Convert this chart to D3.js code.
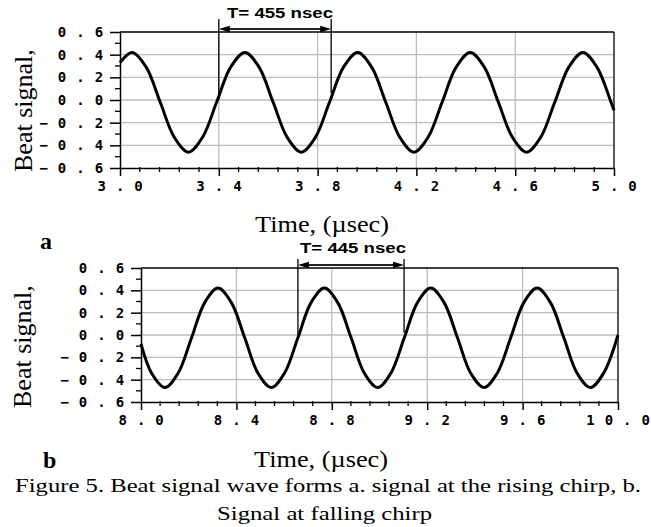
<!DOCTYPE html>
<html>
<head>
<meta charset="utf-8">
<script src="https://cdn.jsdelivr.net/npm/d3@7"></script>
<style>
  html, body { margin: 0; padding: 0; background: #fff; }
  svg { display: block; }
</style>
</head>
<body>
<svg id="chart" width="651" height="527"></svg>
<script>
// ---------- DATA ----------
// Panel a: signal at the rising chirp
const timeA = [3.000, 3.049, 3.106, 3.163, 3.220, 3.277, 3.334, 3.391, 3.448, 3.506, 3.563, 3.620, 3.677, 3.734, 3.791, 3.848, 3.905, 3.962, 4.019, 4.076, 4.133, 4.190, 4.247, 4.304, 4.361, 4.418, 4.475, 4.532, 4.589, 4.646, 4.703, 4.760, 4.817, 4.874, 4.931, 4.988, 5.000];
const signalA = [0.33, 0.42, 0.29, -0.02, -0.33, -0.46, -0.33, -0.02, 0.29, 0.42, 0.29, -0.02, -0.33, -0.46, -0.33, -0.02, 0.29, 0.42, 0.29, -0.02, -0.33, -0.46, -0.33, -0.02, 0.29, 0.42, 0.29, -0.02, -0.33, -0.46, -0.33, -0.02, 0.29, 0.42, 0.29, -0.02, -0.09];
// Panel b: signal at the falling chirp
const timeB = [8.000, 8.044, 8.100, 8.156, 8.212, 8.267, 8.323, 8.379, 8.435, 8.490, 8.546, 8.602, 8.658, 8.713, 8.769, 8.825, 8.881, 8.936, 8.992, 9.048, 9.104, 9.159, 9.215, 9.271, 9.327, 9.382, 9.438, 9.494, 9.550, 9.605, 9.661, 9.717, 9.773, 9.828, 9.884, 9.940, 10.000];
const signalB = [-0.08, -0.34, -0.47, -0.34, -0.025, 0.29, 0.42, 0.29, -0.025, -0.34, -0.47, -0.34, -0.025, 0.29, 0.42, 0.29, -0.025, -0.34, -0.47, -0.34, -0.025, 0.29, 0.42, 0.29, -0.025, -0.34, -0.47, -0.34, -0.025, 0.29, 0.42, 0.29, -0.025, -0.34, -0.47, -0.34, 0.00];

// Period markers: [start time, end time], label, signal level at marker foot
const markerA = [3.400, 3.855];
const markerB = [8.658, 9.103];
const markerLabels = ["T= 455 nsec", "T= 445 nsec"];
const markerFootA = [0.00, 0.06];
const markerFootB = [0.00, 0.02];

// Axis ticks
const xTicksA = [3.0, 3.4, 3.8, 4.2, 4.6, 5.0];
const xTicksB = [8.0, 8.4, 8.8, 9.2, 9.6, 10.0];
const yTicks = [-0.6, -0.4, -0.2, 0.0, 0.2, 0.4, 0.6];
const yMinorTicks = [-0.5, -0.3, -0.1, 0.1, 0.3, 0.5];
const xMinorStep = 0.08;

const yTitle = "Beat signal,";
const xTitle = "Time, (\u00b5sec)";
const panelLetters = ["a", "b"];
const captionLines = ["Figure 5. Beat signal wave forms a. signal at the rising chirp, b.", "Signal at falling chirp"];

// ---------- DRAW ----------
const svg = d3.select("#chart");

function fmtTick(v) {
  const s = Math.abs(v).toFixed(1).split("").join(" ");
  return (v < -1e-9 ? "\u2212 " : "") + s;
}

function styleTickText(sel) {
  sel.attr("font-family", "'DejaVu Sans Mono', 'Liberation Mono', monospace")
    .attr("font-weight", "bold").attr("font-size", 14)
    .attr("letter-spacing", "0.8px")
    .attr("fill", "#000");
}

function drawPanel(cfg) {
  const g = svg.append("g");
  const x = d3.scaleLinear().domain([cfg.xTicks[0], cfg.xTicks[cfg.xTicks.length - 1]]).range([cfg.left, cfg.right]);
  const y = d3.scaleLinear().domain([-0.6, 0.6]).range([cfg.bottom, cfg.top]);

  // grid
  const gridX = cfg.xTicks.slice(1, -1);
  const gridY = yTicks.slice(1, -1);
  g.selectAll(".gx").data(gridX).join("line")
    .attr("x1", d => x(d)).attr("x2", d => x(d))
    .attr("y1", cfg.top).attr("y2", cfg.bottom)
    .attr("stroke", "#bdbdbd").attr("stroke-width", 1.3);
  g.selectAll(".gy").data(gridY).join("line")
    .attr("x1", cfg.left).attr("x2", cfg.right)
    .attr("y1", d => y(d)).attr("y2", d => y(d))
    .attr("stroke", "#bdbdbd").attr("stroke-width", 1.3);

  // frame: top and right borders
  g.append("line").attr("x1", cfg.left).attr("x2", cfg.right).attr("y1", cfg.top).attr("y2", cfg.top)
    .attr("stroke", "#000").attr("stroke-width", 1.3);
  g.append("line").attr("x1", cfg.right).attr("x2", cfg.right).attr("y1", cfg.top).attr("y2", cfg.bottom)
    .attr("stroke", "#000").attr("stroke-width", 1.3);

  // x axis
  const xMinor = d3.range(x.domain()[0], x.domain()[1] + 1e-6, xMinorStep)
    .filter(v => !cfg.xTicks.some(t => Math.abs(t - v) < 1e-6));
  const xAxis = d3.axisBottom(x).tickValues(cfg.xTicks).tickSize(8).tickSizeOuter(0).tickPadding(5).tickFormat(fmtTick);
  const xa = g.append("g").attr("transform", `translate(0,${cfg.bottom})`).call(xAxis);
  xa.select(".domain").attr("stroke", "#000").attr("stroke-width", 1.5);
  xa.selectAll(".tick line").attr("stroke", "#000").attr("stroke-width", 1.5);
  xa.selectAll(".tick text").call(styleTickText);
  g.selectAll(".xminor").data(xMinor).join("line")
    .attr("x1", d => x(d)).attr("x2", d => x(d))
    .attr("y1", cfg.bottom - 1).attr("y2", cfg.bottom + 4)
    .attr("stroke", "#000").attr("stroke-width", 1.3);

  // y axis
  const yAxis = d3.axisLeft(y).tickValues(yTicks).tickSize(10).tickSizeOuter(0).tickPadding(6).tickFormat(fmtTick);
  const ya = g.append("g").attr("transform", `translate(${cfg.left},0)`).call(yAxis);
  ya.select(".domain").attr("stroke", "#000").attr("stroke-width", 1.5);
  ya.selectAll(".tick line").attr("stroke", "#000").attr("stroke-width", 1.5);
  ya.selectAll(".tick text").call(styleTickText);
  g.selectAll(".yminor").data(yMinorTicks).join("line")
    .attr("x1", cfg.left - 5).attr("x2", cfg.left)
    .attr("y1", d => y(d)).attr("y2", d => y(d))
    .attr("stroke", "#000").attr("stroke-width", 1.3);

  // signal
  const pts = cfg.times.map((t, i) => [t, cfg.values[i]]);
  const line = d3.line().x(d => x(d[0])).y(d => y(d[1])).curve(d3.curveCatmullRom.alpha(0.5));
  g.append("path").datum(pts).attr("d", line)
    .attr("fill", "none").attr("stroke", "#000").attr("stroke-width", 3)
    .attr("stroke-linejoin", "round");

  // period marker
  const [m0, m1] = cfg.marker;
  g.append("line").attr("x1", x(m0)).attr("x2", x(m0)).attr("y1", cfg.markerTop).attr("y2", y(cfg.markerFoot[0]))
    .attr("stroke", "#000").attr("stroke-width", 1.3);
  g.append("line").attr("x1", x(m1)).attr("x2", x(m1)).attr("y1", cfg.markerTop).attr("y2", y(cfg.markerFoot[1]))
    .attr("stroke", "#000").attr("stroke-width", 1.3);
  const ay = cfg.arrowY;
  g.append("line").attr("x1", x(m0) + 6).attr("x2", x(m1) - 6).attr("y1", ay).attr("y2", ay)
    .attr("stroke", "#222").attr("stroke-width", 2.2);
  const ah = 11, aw = 3.2;
  g.append("path").attr("d", `M${x(m0)},${ay} L${x(m0) + ah},${ay - aw} L${x(m0) + ah},${ay + aw} Z`).attr("fill", "#000");
  g.append("path").attr("d", `M${x(m1)},${ay} L${x(m1) - ah},${ay - aw} L${x(m1) - ah},${ay + aw} Z`).attr("fill", "#000");
  g.append("text").attr("x", cfg.labelX).attr("y", cfg.labelY)
    .attr("font-family", "'Liberation Sans', Arial, sans-serif").attr("font-weight", "bold")
    .attr("font-size", 14).attr("textLength", 106).attr("lengthAdjust", "spacingAndGlyphs")
    .text(cfg.label);

  // y title
  g.append("text")
    .attr("transform", `translate(${cfg.yTitleX},${cfg.yTitleY}) rotate(-90)`)
    .attr("font-family", "'Liberation Serif', 'Times New Roman', serif")
    .attr("font-size", 26).attr("text-anchor", "start")
    .text(yTitle);

  // x title
  g.append("text").attr("x", cfg.xTitleX).attr("y", cfg.xTitleY)
    .attr("font-family", "'Liberation Serif', 'Times New Roman', serif")
    .attr("font-size", 23).attr("textLength", 134).attr("lengthAdjust", "spacingAndGlyphs")
    .text(xTitle);

  // panel letter
  g.append("text").attr("x", cfg.letterX).attr("y", cfg.letterY)
    .attr("font-family", "'Liberation Serif', 'Times New Roman', serif")
    .attr("font-weight", "bold").attr("font-size", 24)
    .text(cfg.letter);
}

drawPanel({
  left: 120, right: 614, top: 32, bottom: 168,
  xTicks: xTicksA, times: timeA, values: signalA,
  marker: markerA, markerFoot: markerFootA, markerTop: 19, arrowY: 29,
  label: markerLabels[0], labelX: 227, labelY: 18,
  yTitleX: 32, yTitleY: 172,
  xTitleX: 255, xTitleY: 232,
  letter: panelLetters[0], letterX: 40, letterY: 249
});

drawPanel({
  left: 141, right: 618, top: 268, bottom: 402,
  xTicks: xTicksB, times: timeB, values: signalB,
  marker: markerB, markerFoot: markerFootB, markerTop: 259, arrowY: 265,
  label: markerLabels[1], labelX: 300, labelY: 253,
  yTitleX: 31, yTitleY: 408,
  xTitleX: 254, xTitleY: 467,
  letter: panelLetters[1], letterX: 43, letterY: 468
});

// caption
svg.append("text").attr("x", 15).attr("y", 492)
  .attr("font-family", "'Liberation Serif', 'Times New Roman', serif")
  .attr("font-size", 19).attr("textLength", 626).attr("lengthAdjust", "spacingAndGlyphs")
  .text(captionLines[0]);
svg.append("text").attr("x", 217).attr("y", 520)
  .attr("font-family", "'Liberation Serif', 'Times New Roman', serif")
  .attr("font-size", 19).attr("textLength", 215).attr("lengthAdjust", "spacingAndGlyphs")
  .text(captionLines[1]);
</script>
</body>
</html>
